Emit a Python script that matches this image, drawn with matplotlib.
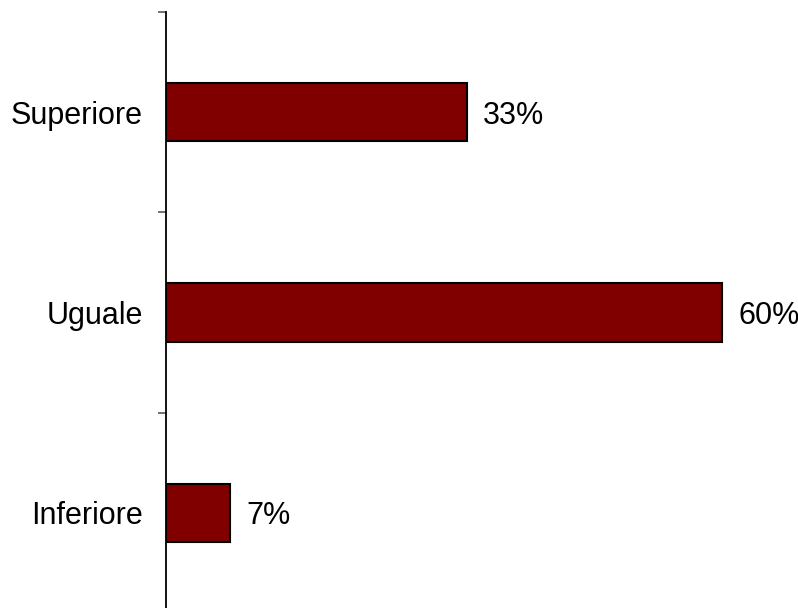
import matplotlib
matplotlib.use("Agg")
import matplotlib.pyplot as plt
import numpy as np

categories = ["Superiore", "Uguale", "Inferiore"]
values = [32.5, 60, 6.9]
value_labels = ["33%", "60%", "7%"]

plt.rcParams['font.family'] = ['Liberation Sans', 'DejaVu Sans']

W, H = 798, 608
fig = plt.figure(figsize=(W/100, H/100), dpi=100)
left, right = 166, 798
top, bottom = 12, 613
ax = fig.add_axes([left/W, (H-bottom)/H, (right-left)/W, (bottom-top)/H])

px_per = 556/60.0
ax.set_xlim(0, (right-left)/px_per)
y = np.arange(len(categories))
ax.barh(y, values, height=0.29, color="#800000", edgecolor="black", linewidth=1.5)
ax.set_ylim(len(categories)-0.5, -0.5)

for yi, v, lab in zip(y, values, value_labels):
    ax.text(v + 16/px_per, yi, lab, va="center_baseline", ha="left", fontsize=22, color="black")

ax.set_yticks(y)
ax.set_yticklabels(categories, fontsize=22)
ax.tick_params(axis='y', which='major', length=0, pad=16.5)
ax.set_yticks(np.arange(-0.5, len(categories)+0.5, 1), minor=True)
ax.tick_params(axis='y', which='minor', length=5.8, width=1.3, color="#666666")
ax.set_xticks([])
for s in ["top", "right", "bottom"]:
    ax.spines[s].set_visible(False)
ax.spines["left"].set_linewidth(1.3)
ax.spines["left"].set_color("black")

fig.savefig("out.png", dpi=100)
